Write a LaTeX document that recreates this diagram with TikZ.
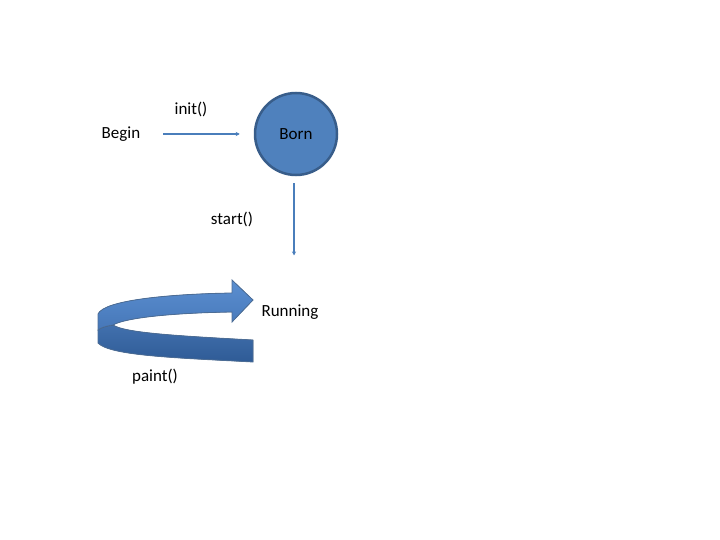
\documentclass[tikz,border=0pt]{standalone}
\usepackage{fontspec}
\setmainfont{Carlito}
\usepackage{tikz}
\usetikzlibrary{arrows.meta, positioning}
\definecolor{sblue}{HTML}{4F81BD}
\definecolor{sborder}{HTML}{385D8A}
\definecolor{sline}{HTML}{4A7EBB}
\definecolor{rtop}{HTML}{5B8FD1}
\definecolor{rtopd}{HTML}{4677B8}
\definecolor{rlow}{HTML}{4170AD}
\definecolor{rlowd}{HTML}{2F5B96}
\tikzset{
  lbl/.style={font=\fontsize{17}{20}\selectfont, text=black, inner sep=2pt},
  statebox/.style={circle, draw=sborder, line width=2.5pt, fill=sblue,
                   minimum size=82pt, font=\fontsize{17}{20}\selectfont, text=black},
  arr/.style={-{Stealth[length=4pt,width=4pt]}, line width=1.6pt, sline},
  rband/.style={draw=sborder!90, line width=0.8pt},
}
\begin{document}
\begin{tikzpicture}[x=1pt, y=-1pt]
  \useasboundingbox (0,0) rectangle (720,540);

  \node[lbl] (begin) at (121, 134) {Begin};
  \node[statebox] (born) at (296, 134) {Born};
  \node[lbl] (running) at (290, 312) {Running};

  \node[lbl] (init) at (191, 109) {init()};
  \node[lbl] (start) at (232, 219) {start()};
  \node[lbl] (paint) at (155, 377) {paint()};

  \draw[arr, shorten <=21pt, shorten >=14pt] (begin.east) -- (born.west);
  \draw[arr, shorten <=7pt, shorten >=47pt] ([xshift=-2pt]born.south) -- ([xshift=4pt]running.north);

  % lower (back) band
  \fill[rband, top color=rlow, bottom color=rlowd]
    (98,330) -- (98,343) .. controls (110,356) and (180,358) .. (253,362)
    -- (253,340) .. controls (180,336) and (125,333) .. (113,325)
    .. controls (106,326) and (100,328) .. (98,330) -- cycle;
  % upper (front) band with head
  \fill[rband, top color=rtop, bottom color=rtopd]
    (98,330) -- (98,314) .. controls (104,300) and (170,294) .. (232,293)
    -- (232,280) -- (253,300) -- (232,322) -- (232,312)
    .. controls (170,313) and (125,318) .. (113,325)
    .. controls (106,326) and (100,328) .. (98,330) -- cycle;
\end{tikzpicture}
\end{document}
